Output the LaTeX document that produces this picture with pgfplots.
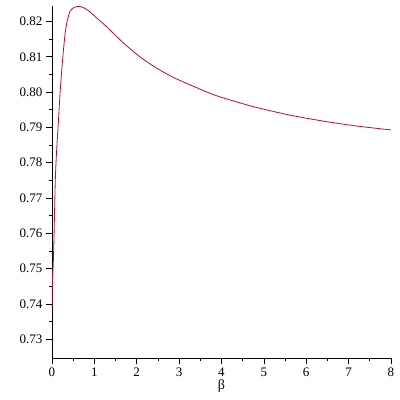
\documentclass[border=0pt]{standalone}
\usepackage{fontspec}
\setmainfont{Liberation Serif}
\usepackage{pgfplots}
\pgfplotsset{compat=1.18}
\definecolor{curvered}{RGB}{200,10,35}

\begin{document}
\begin{tikzpicture}[x=1pt,y=1pt]
\path[use as bounding box] (-52,-42) rectangle (348,358);
\begin{axis}[
  at={(0,0)}, anchor=origin,
  scale only axis, width=339pt, height=352pt,
  xmin=0, xmax=8, ymin=0.7247, ymax=0.8244,
  axis x line=bottom, axis y line=left,
  axis line style={-, black, line width=0.8pt},
  xtick={0,1,...,8},
  ytick={0.73,0.74,0.75,0.76,0.77,0.78,0.79,0.80,0.81,0.82},
  minor x tick num=1, minor y tick num=1,
  tick align=outside,
  major tick length=6pt, minor tick length=3pt,
  every tick/.style={black, line width=0.7pt},
  tick label style={font=\fontsize{13}{14}\selectfont},
  /pgf/number format/assume math mode=true,
  yticklabel style={/pgf/number format/.cd, fixed, fixed zerofill, precision=2},
  scaled y ticks=false,
  xlabel={β}, label style={font=\fontsize{14}{15}\selectfont},
  xlabel style={yshift=4pt},
]
\addplot[curvered, line width=0.8pt, smooth, tension=0.4] coordinates {
(0,0.7375)(0.005,0.742)(0.015,0.748)(0.031,0.7518)(0.047,0.7587)
(0.078,0.7751)(0.11,0.7836)(0.15,0.7915)(0.19,0.7997)(0.23,0.8062)
(0.27,0.8119)(0.31,0.8166)(0.346,0.8194)(0.42,0.8228)(0.52,0.8240)
(0.64,0.8243)(0.75,0.8239)(0.896,0.8227)(1.29,0.8185)(1.68,0.8140)
(2.075,0.8100)(2.47,0.8068)(2.86,0.8042)(3.25,0.8021)(3.88,0.7990)
(4.75,0.7959)(5.61,0.7935)(6.40,0.7918)(7.19,0.7904)(8,0.7893)};
\end{axis}
\end{tikzpicture}
\end{document}
